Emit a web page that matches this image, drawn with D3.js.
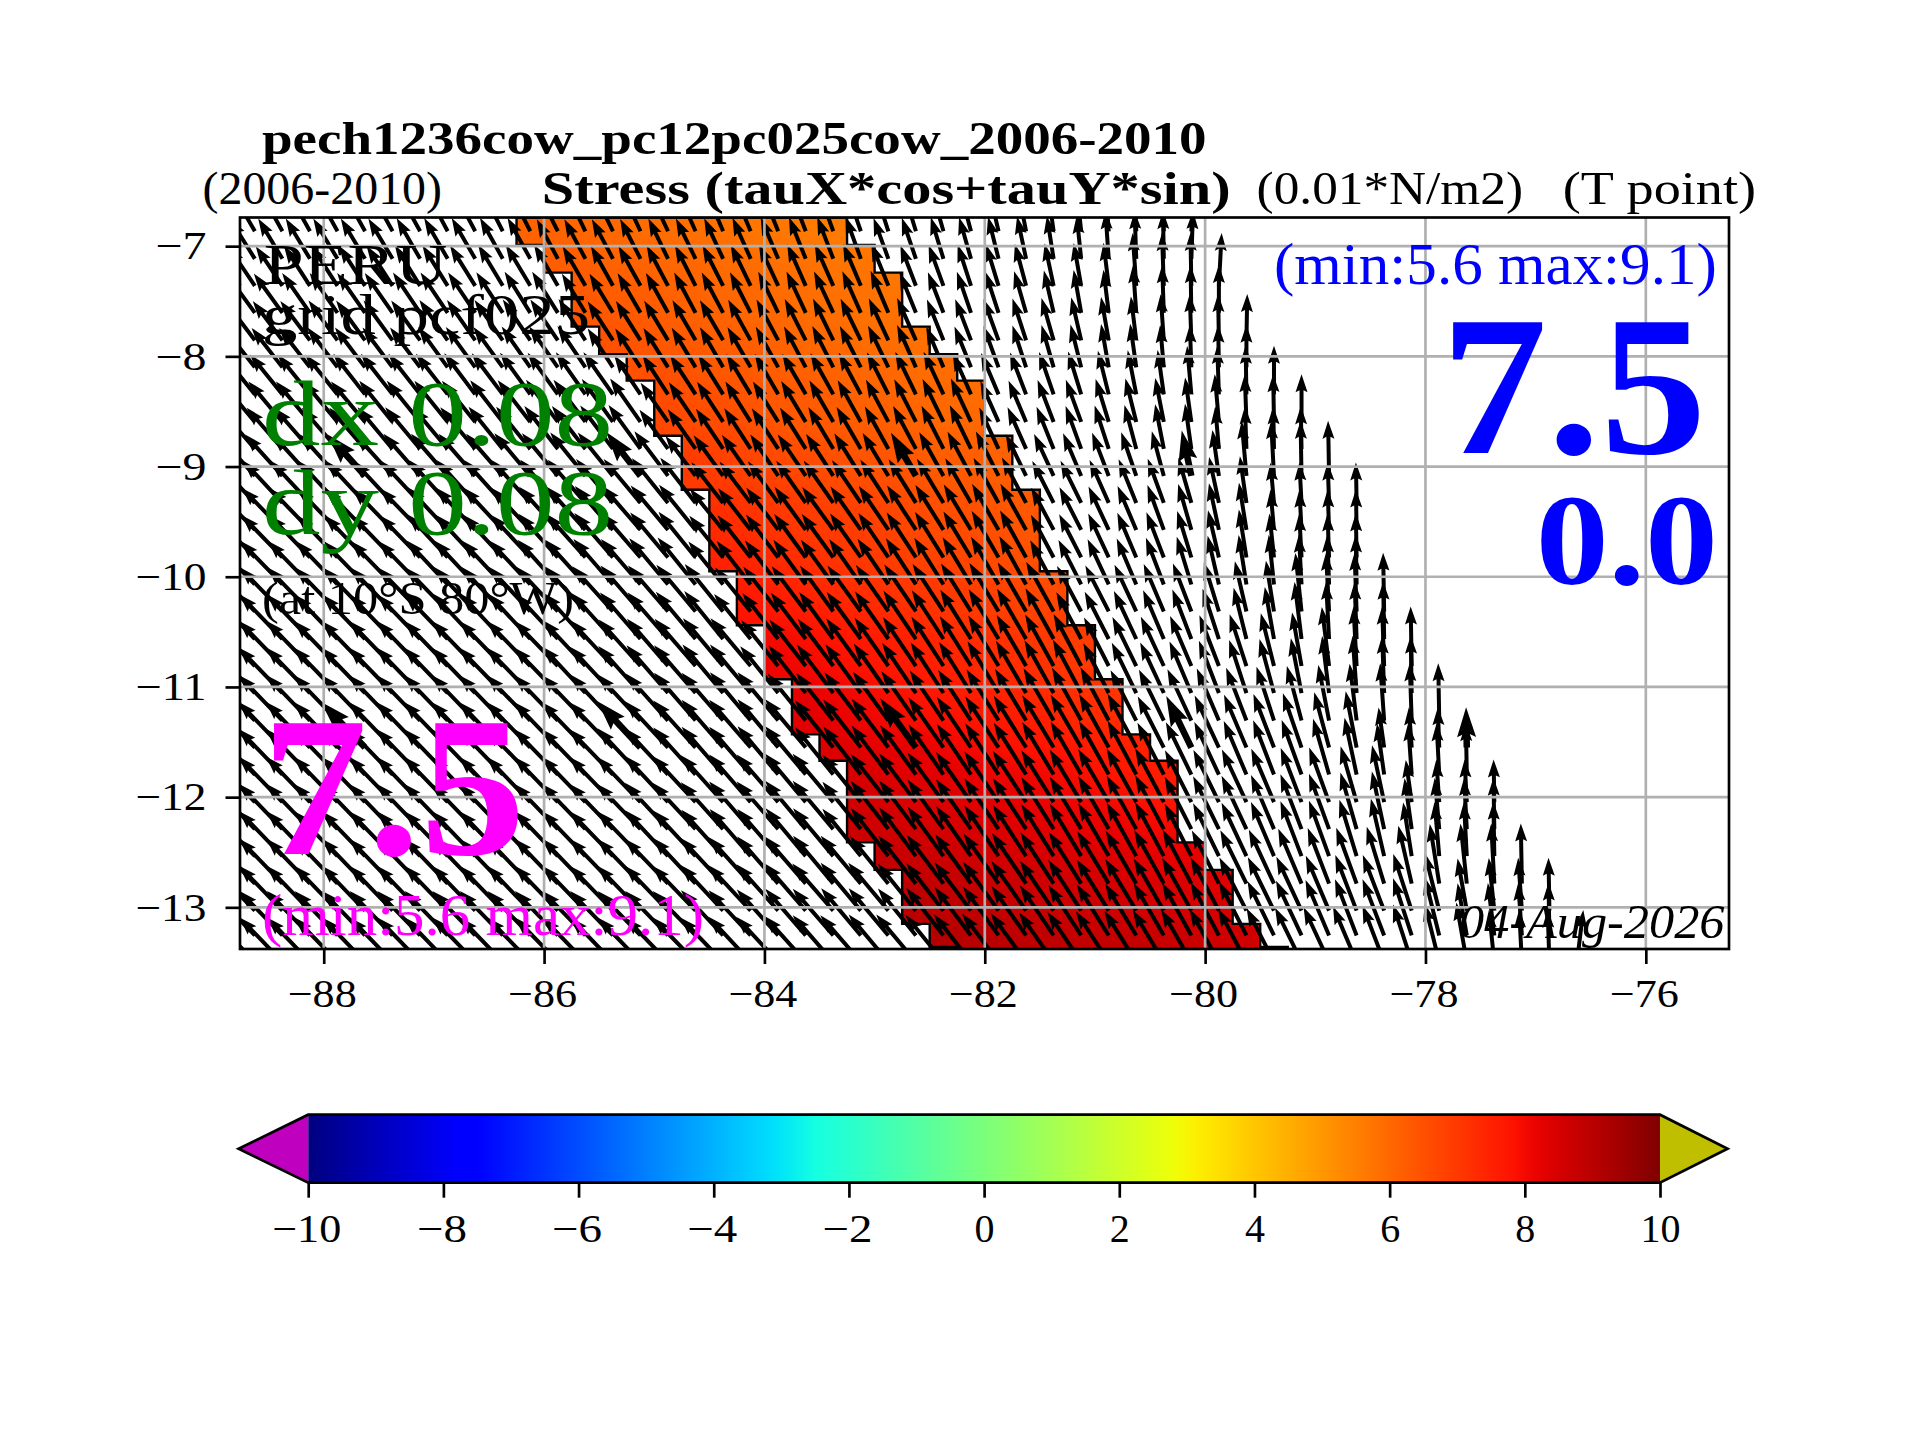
<!DOCTYPE html><html lang="en"><head>
<meta charset="utf-8"/>
<title>Stress (tauX*cos+tauY*sin)</title>
<script src="https://d3js.org/d3.v7.min.js"></script>
<style>
  body { margin: 0; padding: 0; background: #fff; }
  svg { display: block; }
  text { font-family: "Liberation Serif", serif; fill: #000; }
  .tick line, .domain { stroke: #000; stroke-width: 2.67px; }
  .tick text { font-size: 40px; }
</style>
</head>
<body>
<div id="chart"></div>
<script>
// axes
const xDomain = [-88.76, -75.245];
const yDomain = [-6.74, -13.378];
const xTicks = [-88, -86, -84, -82, -80, -78, -76];
const yTicks = [-7, -8, -9, -10, -11, -12, -13];
const cbTicks = [-10, -8, -6, -4, -2, 0, 2, 4, 6, 8, 10];

// model grid, edges of the coloured cells
const lonEdges = [-86.25, -86, -85.75, -85.5, -85.25, -85, -84.75, -84.5, -84.25, -84, -83.75, -83.5, -83.25, -83, -82.75,
  -82.5, -82.25, -82, -81.75, -81.5, -81.25, -81, -80.75, -80.5, -80.25, -80, -79.75, -79.5, -79.25];
const latEdges = [-6.74, -6.99, -7.24, -7.48, -7.73, -7.98, -8.22, -8.47, -8.72, -8.96, -9.21, -9.45, -9.7, -9.95, -10.19,
  -10.44, -10.69, -10.93, -11.18, -11.43, -11.67, -11.92, -12.17, -12.41, -12.66, -12.91, -13.15, -13.36, -13.63];

// first coloured cell of each row, index in lonEdges (every row has 12 cells)
const bandStart = [0, 1, 2, 2, 3, 4, 5, 5, 6, 6, 7, 7, 7, 8, 8, 9, 9, 10, 10, 11, 12, 12, 12, 13, 14, 14, 15, 16];

// stress in the coloured band, one line per row, west to east
const bandValues = [
  [6.1,6.1,6.0,6.0,5.9,5.9,5.8,5.8,5.7,5.7,5.6,5.6],
  [6.2,6.2,6.1,6.1,6.0,6.0,5.9,5.9,5.8,5.8,5.7,5.7],
  [6.3,6.2,6.2,6.1,6.1,6.0,6.0,5.9,5.9,5.8,5.8,5.7],
  [6.4,6.3,6.3,6.2,6.1,6.1,6.0,6.0,5.9,5.9,5.8,5.8],
  [6.5,6.4,6.3,6.3,6.2,6.2,6.1,6.0,6.0,5.9,5.9,5.8],
  [6.5,6.5,6.4,6.3,6.3,6.2,6.1,6.1,6.0,6.0,5.9,5.9],
  [6.6,6.5,6.5,6.4,6.3,6.3,6.2,6.1,6.1,6.0,6.0,5.9],
  [6.7,6.6,6.6,6.5,6.4,6.3,6.3,6.2,6.2,6.1,6.0,6.0],
  [6.9,6.8,6.7,6.6,6.6,6.5,6.4,6.4,6.3,6.2,6.2,6.1],
  [7.0,6.9,6.8,6.8,6.7,6.6,6.5,6.5,6.4,6.3,6.3,6.2],
  [7.2,7.1,7.0,6.9,6.8,6.8,6.7,6.6,6.5,6.5,6.4,6.3],
  [7.3,7.2,7.1,7.0,7.0,6.9,6.8,6.7,6.6,6.6,6.5,6.4],
  [7.5,7.4,7.3,7.2,7.1,7.0,6.9,6.8,6.8,6.7,6.6,6.5],
  [7.6,7.5,7.4,7.3,7.2,7.1,7.0,7.0,6.9,6.8,6.7,6.6],
  [7.8,7.7,7.6,7.5,7.4,7.3,7.2,7.1,7.0,6.9,6.8,6.8],
  [8.0,7.9,7.8,7.7,7.6,7.5,7.4,7.3,7.2,7.1,7.0,6.9],
  [8.1,8.0,7.9,7.8,7.7,7.6,7.5,7.4,7.3,7.2,7.1,7.0],
  [8.2,8.1,8.0,7.9,7.8,7.7,7.6,7.5,7.4,7.3,7.2,7.1],
  [8.3,8.2,8.1,8.0,7.9,7.9,7.8,7.7,7.6,7.5,7.4,7.3],
  [8.4,8.3,8.2,8.2,8.1,8.0,7.9,7.8,7.8,7.7,7.6,7.5],
  [8.5,8.4,8.3,8.3,8.2,8.1,8.1,8.0,7.9,7.8,7.7,7.6],
  [8.6,8.5,8.4,8.4,8.3,8.3,8.2,8.1,8.1,8.0,7.9,7.8],
  [8.7,8.6,8.6,8.5,8.5,8.4,8.3,8.3,8.2,8.2,8.1,8.0],
  [8.8,8.7,8.7,8.6,8.6,8.5,8.5,8.4,8.4,8.3,8.2,8.2],
  [8.9,8.8,8.8,8.7,8.7,8.6,8.6,8.5,8.5,8.4,8.4,8.3],
  [9.0,8.9,8.9,8.8,8.8,8.7,8.7,8.7,8.6,8.6,8.5,8.5],
  [9.1,9.0,9.0,8.9,8.9,8.8,8.8,8.8,8.7,8.7,8.6,8.6],
  [9.1,9.1,9.0,9.0,9.0,8.9,8.9,8.9,8.8,8.8,8.7,8.7]
];

// arrow columns
const arrowLons = [-88.625, -88.375, -88.125, -87.875, -87.625, -87.375, -87.125, -86.875, -86.625, -86.375, -86.125, -85.875,
  -85.625, -85.375, -85.125, -84.875, -84.625, -84.375, -84.125, -83.875, -83.625, -83.375, -83.125, -82.875, -82.625,
  -82.375, -82.125, -81.875, -81.625, -81.375, -81.125, -80.875, -80.625, -80.375, -80.125, -79.875, -79.625, -79.375,
  -79.125, -78.875, -78.625, -78.375, -78.125, -77.875, -77.625, -77.375, -77.125, -76.875, -76.625];

// arrow direction, degrees west of north, one line per row, west to east up to the coast
const arrowAngles = [
  [30,29,29,29,29,29,29,28,28,27,27,27,26,26,25,25,24,23,23,22,21,20,19,18,17,16,15,13,11,8,6,4,2,1,-3],
  [32,31,31,31,31,31,30,30,30,29,29,28,28,28,27,26,26,25,24,23,22,21,20,20,19,17,16,14,12,9,6,4,2,1,-2],
  [34,34,33,33,33,33,32,32,32,31,31,30,30,29,29,28,27,27,26,25,24,24,23,22,21,20,18,17,15,12,10,7,4,2,1,-3],
  [36,36,35,35,35,35,34,34,34,33,32,32,31,31,30,29,28,28,27,26,25,25,24,23,22,21,19,18,16,13,10,7,4,2,1,0],
  [37,37,37,36,36,36,36,35,35,35,34,34,33,33,32,31,30,30,29,28,27,26,26,25,24,22,21,20,18,16,13,10,7,4,2,1,-1],
  [38,38,38,37,37,37,37,36,36,36,35,35,34,33,33,32,31,30,30,29,28,27,27,26,24,23,22,20,18,16,14,10,8,5,2,1,0],
  [39,39,39,39,38,38,38,38,37,37,36,36,35,35,34,33,33,32,31,30,30,29,28,27,26,25,24,23,21,19,17,14,11,8,5,2,1,0],
  [40,40,40,40,40,39,39,39,39,38,38,37,37,36,35,35,34,33,32,32,31,30,29,28,27,26,25,24,23,21,20,17,14,11,8,5,2,1,0],
  [41,41,41,41,41,40,40,40,40,39,39,38,38,37,36,36,35,34,33,33,32,31,30,29,28,27,26,25,24,22,20,18,15,11,8,5,2,1,1],
  [42,42,42,42,42,42,41,41,41,41,40,40,39,39,38,37,37,36,35,34,34,33,32,31,30,29,28,27,26,25,23,21,19,15,12,8,5,3,1,1],
  [43,43,43,43,43,43,43,42,42,42,42,41,41,40,40,39,38,38,37,36,35,35,34,33,32,31,30,29,28,27,26,24,22,20,16,12,8,5,3,2,1],
  [44,44,44,44,44,44,44,43,43,43,43,42,42,41,41,40,39,39,38,37,36,36,35,34,33,32,31,30,29,28,27,25,23,20,16,12,9,5,3,2,1],
  [44,44,44,44,44,44,44,43,43,43,43,42,42,41,41,40,39,39,38,37,36,36,35,34,33,32,31,30,29,28,27,25,23,21,17,13,9,6,3,2,1],
  [44,44,44,44,44,44,44,43,43,43,43,42,42,41,41,40,39,39,38,37,36,36,35,34,33,32,31,30,29,28,27,25,23,21,17,13,9,6,3,2,1],
  [44,44,44,44,44,44,44,44,43,43,43,43,42,42,41,41,40,39,39,38,37,36,36,35,34,33,32,31,30,29,28,27,25,23,21,17,13,9,6,3,2,1],
  [44,44,44,44,44,44,44,44,43,43,43,43,42,42,41,41,40,39,39,38,37,36,36,35,34,33,32,31,30,29,28,27,25,23,21,18,14,10,7,3,2,1],
  [44,44,44,44,44,44,44,44,44,44,44,44,43,43,42,41,41,40,40,39,38,37,36,35,34,33,32,31,30,29,28,27,26,25,23,21,18,14,10,7,3,2,1],
  [44,44,44,44,44,44,44,44,44,44,44,44,43,43,42,41,41,40,40,39,38,37,36,35,34,33,32,31,30,29,28,27,26,25,23,21,18,15,11,7,4,2,1],
  [44,44,44,44,44,44,44,44,44,44,44,44,44,43,43,42,41,41,40,40,39,38,37,36,35,34,33,32,31,30,29,28,27,26,25,23,21,18,15,11,7,4,2,1],
  [44,44,44,44,44,44,44,44,44,44,44,44,44,44,43,43,42,41,41,40,40,39,38,37,36,35,34,33,32,31,30,29,28,27,26,25,23,21,19,15,11,8,4,2,1],
  [44,44,44,44,44,44,44,44,44,44,44,44,44,44,43,43,42,41,41,40,40,39,38,37,36,35,34,33,32,31,30,29,28,27,26,25,23,21,20,16,12,8,4,3,1],
  [44,44,44,44,44,44,44,44,44,44,44,44,44,44,44,43,43,42,41,41,40,40,39,38,37,36,35,34,33,32,31,30,29,28,27,26,25,23,21,20,16,12,8,4,3,1],
  [44,44,44,44,44,44,44,44,44,44,44,44,44,44,44,43,43,42,41,41,40,40,39,38,37,36,35,34,33,32,31,30,29,28,27,26,25,23,21,20,16,12,8,5,3,1],
  [44,44,44,44,44,44,44,44,44,44,44,44,44,44,44,43,43,42,41,41,40,40,39,38,37,36,35,34,33,32,31,30,29,28,27,26,25,23,21,20,17,13,9,5,3,1],
  [44,44,44,44,44,44,44,44,44,44,44,44,44,44,44,44,43,43,42,41,41,40,40,39,38,37,36,35,34,33,32,31,30,29,28,27,26,25,23,21,20,17,13,9,6,3,1],
  [44,44,44,44,44,44,44,44,44,44,44,44,44,44,44,44,44,43,43,42,41,41,40,40,39,38,37,36,35,34,33,32,31,30,29,28,27,26,25,23,21,21,18,14,10,6,4,1],
  [44,44,44,44,44,44,44,44,44,44,44,44,44,44,44,44,44,43,43,42,41,41,40,40,39,38,37,36,35,34,33,32,31,30,29,28,27,26,25,23,21,21,18,14,10,7,4,1],
  [44,44,44,44,44,44,44,44,44,44,44,44,44,44,44,44,44,44,43,43,42,41,41,40,40,39,38,37,36,35,34,33,32,31,30,29,28,27,26,25,23,21,18,14,10,6,3,2,-7]
];

// arrow magnitude per row: open ocean, near the band, offshore of the coast, at the coast
const arrowStress = [
  [6.3,6.1,5.9,6.8],[6.4,6.1,5.9,6.5],[6.5,6.2,5.9,7.2],[6.6,6.2,5.9,6.5],[6.7,6.3,6.0,6.3],[6.8,6.3,6.0,5.8],[7.0,6.4,6.1,6.6],
  [7.2,6.5,6.1,6.5],[7.4,6.6,6.2,5.8],[7.6,6.8,6.3,7.5],[7.8,7.0,6.4,5.5],[7.9,7.2,6.5,5.5],[8.0,7.3,6.6,6.0],[8.2,7.5,6.8,6.8],
  [8.3,7.7,7.0,8.0],[8.4,7.9,7.2,7.8],[8.5,8.0,7.4,8.1],[8.6,8.2,7.6,7.8],[8.6,8.2,7.7,7.8],[8.6,8.3,7.8,5.5],[8.6,8.3,7.9,7.0],
  [8.6,8.3,7.9,5.8],[8.6,8.3,8.0,7.0],[8.5,8.3,8.0,7.4],[8.5,8.3,8.1,8.2],[8.5,8.2,8.1,7.2],[8.4,8.2,8.2,7.2],[8.4,8.2,8.2,7.1]
];
// the second, heavier quiver pass
const thickRows = [9, 19];
const thickCols = [4, 14, 24, 34, 44];

// jet colormap
const jetRed = [[0, 0.35, 0.66, 0.89, 1], [0, 0, 1, 1, 0.5]];
const jetGreen = [[0, 0.125, 0.375, 0.64, 0.91, 1], [0, 0, 1, 1, 0, 0]];
const jetBlue = [[0, 0.11, 0.34, 0.65, 1], [0.5, 1, 1, 0, 0]];

const svg = d3.select("#chart").append("svg").attr("width", 1920).attr("height", 1440);
svg.append("rect").attr("width", 1920).attr("height", 1440).attr("fill", "#fff");
const defs = svg.append("defs");

const x = d3.scaleLinear().domain(xDomain).range([240, 1729]);
const y = d3.scaleLinear().domain(yDomain).range([217.5, 949]);

const red = d3.scaleLinear().domain(jetRed[0]).range(jetRed[1]);
const green = d3.scaleLinear().domain(jetGreen[0]).range(jetGreen[1]);
const blue = d3.scaleLinear().domain(jetBlue[0]).range(jetBlue[1]);
const norm = d3.scaleLinear().domain([-10, 10]).range([0, 1]).clamp(true);
function jet(v) {
  const t = norm(v);
  return d3.rgb(red(t) * 255, green(t) * 255, blue(t) * 255).formatHex();
}

defs.append("clipPath").attr("id", "frame").append("rect")
  .attr("x", 240).attr("y", 217.5).attr("width", 1489).attr("height", 731.5);
const plot = svg.append("g").attr("clip-path", "url(#frame)");

// stepped outline of the band
const leftSide = [], rightSide = [];
bandStart.forEach((s, k) => {
  const e = Math.min(s + 12, lonEdges.length - 1);
  leftSide.push([x(lonEdges[s]), y(latEdges[k])], [x(lonEdges[s]), y(latEdges[k + 1])]);
  rightSide.push([x(lonEdges[e]), y(latEdges[k])], [x(lonEdges[e]), y(latEdges[k + 1])]);
});
const bandOutline = d3.line()(leftSide.concat(rightSide.slice().reverse())) + "Z";

// gouraud look: cells are blurred together, then cut back to the band
const smooth = defs.append("filter").attr("id", "smooth").attr("color-interpolation-filters", "sRGB")
  .attr("filterUnits", "userSpaceOnUse").attr("x", 400).attr("y", 100).attr("width", 1000).attr("height", 1000);
smooth.append("feGaussianBlur").attr("stdDeviation", 10);
smooth.append("feComponentTransfer").append("feFuncA").attr("type", "linear").attr("slope", 40);
defs.append("clipPath").attr("id", "bandClip").append("path").attr("d", bandOutline);

// coloured band
const band = plot.append("g").attr("clip-path", "url(#bandClip)").append("g").attr("filter", "url(#smooth)");
bandValues.forEach((row, k) => {
  band.append("g").selectAll("rect").data(row).enter().append("rect")
    .attr("x", (d, i) => x(lonEdges[bandStart[k] + i]))
    .attr("y", y(latEdges[k]))
    .attr("width", (d, i) => x(lonEdges[bandStart[k] + i + 1] ?? -79) - x(lonEdges[bandStart[k] + i]))
    .attr("height", y(latEdges[k + 1]) - y(latEdges[k]))
    .attr("fill", d => jet(d))
    .attr("shape-rendering", "crispEdges");
});
plot.append("path")
  .attr("d", bandOutline)
  .attr("fill", "none").attr("stroke", "#000").attr("stroke-width", 2.4);

// arrows, quiver style with the tail on the cell centre
const stressToLen = d3.scaleLinear().domain([0, 10]).range([0, 73.5]);
function arrowPath(len, w, hw, hl, ha) {
  return "M" + (-w / 2) + ",0V" + (-(len - ha)) + "L" + (-hw / 2) + "," + (-(len - hl)) + "L0," + (-len)
    + "L" + (hw / 2) + "," + (-(len - hl)) + "L" + (w / 2) + "," + (-(len - ha)) + "V0Z";
}
const arrows = [];
arrowAngles.forEach((row, k) => {
  row.forEach((angle, c) => {
    const dist = row.length - 1 - c;
    const zone = dist >= 24 ? 0 : dist >= 12 ? 1 : dist >= 4 ? 2 : 3;
    arrows.push({
      k: k, c: c, angle: angle,
      len: stressToLen(arrowStress[k][zone]),
      thick: thickRows.includes(k) && thickCols.includes(c)
    });
  });
});
plot.append("g").selectAll("path").data(arrows).enter().append("path")
  .attr("d", d => d.thick ? arrowPath(d.len, 6.5, 19, 30, 27) : arrowPath(d.len, 4, 12, 18, 16))
  .attr("transform", d => "translate(" + x(arrowLons[d.c]) + "," + y((latEdges[d.k] + latEdges[d.k + 1]) / 2) + ") rotate(" + (-d.angle) + ")")
  .attr("fill", "#000");

// grid over the arrows
const grid = svg.append("g").attr("stroke", "#b0b0b0").attr("stroke-width", 2.67);
grid.selectAll("line.v").data(xTicks).enter().append("line").attr("class", "v")
  .attr("x1", d => x(d)).attr("x2", d => x(d)).attr("y1", 217.5).attr("y2", 949);
grid.selectAll("line.h").data(yTicks).enter().append("line").attr("class", "h")
  .attr("x1", 240).attr("x2", 1729).attr("y1", d => y(d)).attr("y2", d => y(d));

// axes and frame, the serif minus is narrower than in the reference so labels get stretched
const fmt = d => d < 0 ? "\u2212" + Math.abs(d) : String(d);
function stretchMinus(g) {
  g.selectAll(".tick text")
    .attr("textLength", d => d < 0 ? (d <= -10 ? 69 : 50) : null)
    .attr("lengthAdjust", "spacingAndGlyphs")
    .attr("dx", d => d < 0 ? -2 : 0);
}
svg.append("g").attr("transform", "translate(0,949)")
  .call(d3.axisBottom(x).tickValues(xTicks).tickFormat(fmt).tickSize(15).tickPadding(15))
  .call(g => g.select(".domain").remove())
  .call(stretchMinus);
svg.append("g").attr("transform", "translate(240,0)")
  .call(d3.axisLeft(y).tickValues(yTicks).tickFormat(fmt).tickSize(14.5).tickPadding(19))
  .call(g => g.select(".domain").remove())
  .call(g => g.selectAll(".tick text").attr("textLength", d => d <= -10 ? 71 : 51).attr("lengthAdjust", "spacingAndGlyphs"));
svg.append("rect").attr("x", 240).attr("y", 217.5).attr("width", 1489).attr("height", 731.5)
  .attr("fill", "none").attr("stroke", "#000").attr("stroke-width", 2.67);

// colorbar
const cb = d3.scaleLinear().domain([-10, 10]).range([308.2, 1660]);
const cbTop = 1114.7, cbBottom = 1182.7, cbMid = 1148.7;
const levels = d3.range(0, 257, 4);
const ramp = defs.append("linearGradient").attr("id", "ramp");
ramp.selectAll("stop").data(levels).enter().append("stop")
  .attr("offset", d => d / 256)
  .attr("stop-color", d => jet(-10 + d * 20 / 256));
svg.append("rect")
  .attr("x", cb(-10)).attr("y", cbTop)
  .attr("width", cb(10) - cb(-10)).attr("height", cbBottom - cbTop)
  .attr("fill", "url(#ramp)");
svg.append("path")
  .attr("d", d3.line()([[cb(-10), cbTop], [cb(-11.03), cbMid], [cb(-10), cbBottom]]) + "Z")
  .attr("fill", "#bf00bf");
svg.append("path")
  .attr("d", d3.line()([[cb(10), cbTop], [cb(11.0), cbMid], [cb(10), cbBottom]]) + "Z")
  .attr("fill", "#bfbf00");
svg.append("path")
  .attr("d", d3.line()([[cb(-10), cbTop], [cb(10), cbTop], [cb(11.0), cbMid], [cb(10), cbBottom], [cb(-10), cbBottom], [cb(-11.03), cbMid]]) + "Z")
  .attr("fill", "none").attr("stroke", "#000").attr("stroke-width", 2.67);
svg.append("g").attr("transform", "translate(0," + cbBottom + ")")
  .call(d3.axisBottom(cb).tickValues(cbTicks).tickFormat(fmt).tickSize(15).tickPadding(16))
  .call(g => g.select(".domain").remove())
  .call(stretchMinus);

// titles and annotations: text, left, right, baseline, size, colour, style
const labels = [
  ["pech1236cow_pc12pc025cow_2006-2010", 262, 1206.6, 154, 47, "#000", "bold"],
  ["(2006-2010)", 202.5, 442, 204, 47, "#000", ""],
  ["Stress (tauX*cos+tauY*sin)", 541.8, 1230.6, 204, 47, "#000", "bold"],
  ["(0.01*N/m2)", 1256.6, 1523, 204, 47, "#000", ""],
  ["(T point)", 1562.8, 1756, 204, 47, "#000", ""],
  ["PERU", 263.8, 447.4, 284, 57, "#000", ""],
  ["grid pcf025", 262, 590, 334, 57, "#000", ""],
  ["dx 0.08", 262, 613, 445, 94, "#008000", ""],
  ["dy 0.08", 262, 613, 534, 94, "#008000", ""],
  ["(at 10\u00b0S 80\u00b0W)", 262, 574, 614, 47, "#000", ""],
  ["7.5", 262, 525.5, 854, 200, "#ff00ff", "bold"],
  ["(min:5.6 max:9.1)", 262, 704, 935, 59, "#ff00ff", ""],
  ["(min:5.6 max:9.1)", 1274, 1716.8, 284, 59, "#0000ff", ""],
  ["7.5", 1441, 1706.6, 453, 200, "#0000ff", "bold"],
  ["0.0", 1535.7, 1718, 584, 130, "#0000ff", "bold"],
  ["04-Aug-2026", 1459, 1724.5, 938, 48, "#000", "italic"]
];
svg.append("g").selectAll("text").data(labels).enter().append("text")
  .attr("x", d => d[1])
  .attr("y", d => d[3])
  .attr("textLength", d => d[2] - d[1])
  .attr("lengthAdjust", "spacingAndGlyphs")
  .style("font-size", d => d[4] + "px")
  .style("fill", d => d[5])
  .style("font-weight", d => d[6] === "bold" ? "bold" : "normal")
  .style("font-style", d => d[6] === "italic" ? "italic" : "normal")
  .text(d => d[0]);
</script>
</body></html>
